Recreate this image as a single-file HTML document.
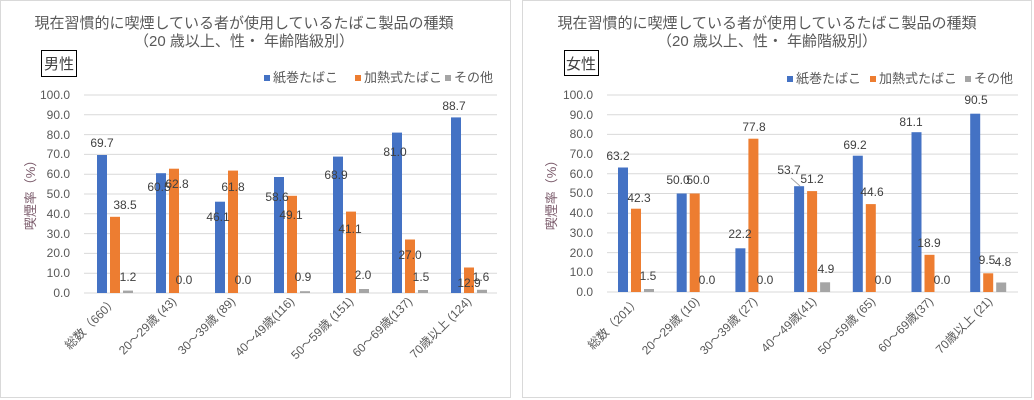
<!DOCTYPE html>
<html><head><meta charset="utf-8"><style>
html,body{margin:0;padding:0;background:#fff;}
svg{display:block;font-family:"Liberation Sans","Noto Sans CJK JP",sans-serif;}
.t{font-size:15px;fill:#595959;text-anchor:middle}
.yt{font-size:12px;fill:#595959;text-anchor:end}
.xl{font-size:12px;fill:#595959;text-anchor:end}
.dl{font-size:12px;fill:#404040;text-anchor:middle}
.lg{font-size:13px;fill:#595959}
.ya{font-size:13px;fill:#7a5a6a;text-anchor:middle}
.g{stroke:#d9d9d9;stroke-width:1}
.b{fill:#4472c4}.o{fill:#ed7d31}.r{fill:#a5a5a5}
</style></head><body>
<svg width="1034" height="400" viewBox="0 0 1034 400">
<rect x="0.5" y="0.5" width="510" height="397" fill="#fff" stroke="#d9d9d9"/>
<rect x="522.5" y="0.5" width="509" height="397" fill="#fff" stroke="#d9d9d9"/>

<!-- LEFT -->
<text class="t" x="244" y="28">現在習慣的に喫煙している者が使用しているたばこ製品の種類</text>
<text class="t" x="244" y="46">（20  歳以上、性・  年齢階級別）</text>
<rect x="41.5" y="50.5" width="35" height="26" fill="none" stroke="#000"/>
<text x="59" y="69" style="font-size:15px;fill:#404040;text-anchor:middle">男性</text>
<rect x="264" y="75" width="6" height="6" class="b"/><text class="lg" x="273" y="82">紙巻たばこ</text>
<rect x="355" y="75" width="6" height="6" class="o"/><text class="lg" x="364" y="82">加熱式たばこ</text>
<rect x="445" y="75" width="6" height="6" class="r"/><text class="lg" x="454" y="82">その他</text>
<g class="g">
<line x1="84" x2="497" y1="95" y2="95"/><line x1="84" x2="497" y1="114.8" y2="114.8"/><line x1="84" x2="497" y1="134.6" y2="134.6"/><line x1="84" x2="497" y1="154.4" y2="154.4"/><line x1="84" x2="497" y1="174.2" y2="174.2"/><line x1="84" x2="497" y1="194" y2="194"/><line x1="84" x2="497" y1="213.8" y2="213.8"/><line x1="84" x2="497" y1="233.6" y2="233.6"/><line x1="84" x2="497" y1="253.4" y2="253.4"/><line x1="84" x2="497" y1="273.2" y2="273.2"/><line x1="84" x2="497" y1="293" y2="293"/>
</g>
<g>
<text class="yt" x="70" y="99">100.0</text><text class="yt" x="70" y="119">90.0</text><text class="yt" x="70" y="139">80.0</text><text class="yt" x="70" y="158">70.0</text><text class="yt" x="70" y="178">60.0</text><text class="yt" x="70" y="198">50.0</text><text class="yt" x="70" y="218">40.0</text><text class="yt" x="70" y="238">30.0</text><text class="yt" x="70" y="257">20.0</text><text class="yt" x="70" y="277">10.0</text><text class="yt" x="70" y="297">0.0</text>
</g>
<text class="ya" transform="translate(35,192) rotate(-90)">喫煙率（%）</text>
<g>
<rect class="b" x="97" y="155" width="10" height="138"/><rect class="o" x="110" y="216.8" width="10" height="76.2"/><rect class="r" x="123" y="290.6" width="10" height="2.4"/>
<rect class="b" x="156" y="173.2" width="10" height="119.8"/><rect class="o" x="169" y="168.7" width="10" height="124.3"/>
<rect class="b" x="215" y="201.7" width="10" height="91.3"/><rect class="o" x="228" y="170.6" width="10" height="122.4"/>
<rect class="b" x="274" y="177" width="10" height="116"/><rect class="o" x="287" y="195.8" width="10" height="97.2"/><rect class="r" x="300" y="291.2" width="10" height="1.8"/>
<rect class="b" x="333" y="156.6" width="10" height="136.4"/><rect class="o" x="346" y="211.6" width="10" height="81.4"/><rect class="r" x="359" y="289" width="10" height="4"/>
<rect class="b" x="392" y="132.6" width="10" height="160.4"/><rect class="o" x="405" y="239.5" width="10" height="53.5"/><rect class="r" x="418" y="290" width="10" height="3"/>
<rect class="b" x="451" y="117.4" width="10" height="175.6"/><rect class="o" x="464" y="267.5" width="10" height="25.5"/><rect class="r" x="477" y="289.8" width="10" height="3.2"/>
</g>
<g>
<text class="dl" x="102" y="147">69.7</text><text class="dl" x="125" y="209">38.5</text><text class="dl" x="128" y="281">1.2</text>
<text class="dl" x="159" y="191">60.5</text><text class="dl" x="177" y="188">62.8</text><text class="dl" x="184" y="284">0.0</text>
<text class="dl" x="218" y="221">46.1</text><text class="dl" x="233" y="191">61.8</text><text class="dl" x="243" y="284">0.0</text>
<text class="dl" x="277" y="201">58.6</text><text class="dl" x="291" y="219">49.1</text><text class="dl" x="303" y="281">0.9</text>
<text class="dl" x="336" y="179">68.9</text><text class="dl" x="350" y="233">41.1</text><text class="dl" x="363" y="279">2.0</text>
<text class="dl" x="395" y="156">81.0</text><text class="dl" x="410" y="259">27.0</text><text class="dl" x="421" y="281">1.5</text>
<text class="dl" x="454" y="110">88.7</text><text class="dl" x="469" y="287">12.9</text><text class="dl" x="481" y="281">1.6</text>
</g>
<g>
<text class="xl" transform="translate(118,302) rotate(-45)">総数（660）</text>
<text class="xl" transform="translate(177,302) rotate(-45)">20～29歳 (43)</text>
<text class="xl" transform="translate(236,302) rotate(-45)">30～39歳 (89)</text>
<text class="xl" transform="translate(295,302) rotate(-45)">40～49歳(116)</text>
<text class="xl" transform="translate(354,302) rotate(-45)">50～59歳 (151)</text>
<text class="xl" transform="translate(413,302) rotate(-45)">60～69歳(137)</text>
<text class="xl" transform="translate(472,302) rotate(-45)">70歳以上 (124)</text>
</g>

<!-- RIGHT -->
<text class="t" x="767" y="28">現在習慣的に喫煙している者が使用しているたばこ製品の種類</text>
<text class="t" x="767" y="46">（20  歳以上、性・  年齢階級別）</text>
<rect x="564.5" y="50.5" width="34" height="25" fill="none" stroke="#000"/>
<text x="581" y="69" style="font-size:15px;fill:#404040;text-anchor:middle">女性</text>
<rect x="787" y="76" width="6" height="6" class="b"/><text class="lg" x="796" y="83">紙巻たばこ</text>
<rect x="870" y="76" width="6" height="6" class="o"/><text class="lg" x="879" y="83">加熱式たばこ</text>
<rect x="965" y="76" width="6" height="6" class="r"/><text class="lg" x="974" y="83">その他</text>
<g class="g">
<line x1="607" x2="1018" y1="95" y2="95"/><line x1="607" x2="1018" y1="114.7" y2="114.7"/><line x1="607" x2="1018" y1="134.4" y2="134.4"/><line x1="607" x2="1018" y1="154.1" y2="154.1"/><line x1="607" x2="1018" y1="173.8" y2="173.8"/><line x1="607" x2="1018" y1="193.5" y2="193.5"/><line x1="607" x2="1018" y1="213.2" y2="213.2"/><line x1="607" x2="1018" y1="232.9" y2="232.9"/><line x1="607" x2="1018" y1="252.6" y2="252.6"/><line x1="607" x2="1018" y1="272.3" y2="272.3"/><line x1="607" x2="1018" y1="292" y2="292"/>
</g>
<g>
<text class="yt" x="593" y="99">100.0</text><text class="yt" x="593" y="119">90.0</text><text class="yt" x="593" y="138">80.0</text><text class="yt" x="593" y="158">70.0</text><text class="yt" x="593" y="178">60.0</text><text class="yt" x="593" y="197">50.0</text><text class="yt" x="593" y="217">40.0</text><text class="yt" x="593" y="237">30.0</text><text class="yt" x="593" y="257">20.0</text><text class="yt" x="593" y="276">10.0</text><text class="yt" x="593" y="296">0.0</text>
</g>
<text class="ya" transform="translate(556,192) rotate(-90)">喫煙率（%）</text>
<g>
<rect class="b" x="618" y="167.5" width="10" height="124.5"/><rect class="o" x="631" y="208.7" width="10" height="83.3"/><rect class="r" x="644" y="289" width="10" height="3"/>
<rect class="b" x="676.7" y="193.5" width="10" height="98.5"/><rect class="o" x="689.7" y="193.5" width="10" height="98.5"/>
<rect class="b" x="735.4" y="248.3" width="10" height="43.7"/><rect class="o" x="748.4" y="138.7" width="10" height="153.3"/>
<rect class="b" x="794.1" y="186.2" width="10" height="105.8"/><rect class="o" x="807.1" y="191.1" width="10" height="100.9"/><rect class="r" x="820.1" y="282.3" width="10" height="9.7"/>
<rect class="b" x="852.8" y="155.7" width="10" height="136.3"/><rect class="o" x="865.8" y="204.1" width="10" height="87.9"/>
<rect class="b" x="911.5" y="132.2" width="10" height="159.8"/><rect class="o" x="924.5" y="254.8" width="10" height="37.2"/>
<rect class="b" x="970.2" y="113.7" width="10" height="178.3"/><rect class="o" x="983.2" y="273.3" width="10" height="18.7"/><rect class="r" x="996.2" y="282.5" width="10" height="9.5"/>
</g>
<line x1="791" y1="178" x2="800" y2="186" stroke="#a6a6a6" stroke-width="1"/>
<g>
<text class="dl" x="618" y="160">63.2</text><text class="dl" x="639" y="202">42.3</text><text class="dl" x="648" y="280">1.5</text>
<text class="dl" x="678" y="184">50.0</text><text class="dl" x="698" y="184">50.0</text><text class="dl" x="707" y="284">0.0</text>
<text class="dl" x="740" y="238">22.2</text><text class="dl" x="754" y="131">77.8</text><text class="dl" x="765" y="284">0.0</text>
<text class="dl" x="789" y="174">53.7</text><text class="dl" x="812" y="183">51.2</text><text class="dl" x="826" y="273">4.9</text>
<text class="dl" x="855" y="149">69.2</text><text class="dl" x="872" y="196">44.6</text><text class="dl" x="883" y="284">0.0</text>
<text class="dl" x="911" y="126">81.1</text><text class="dl" x="929" y="247">18.9</text><text class="dl" x="942" y="284">0.0</text>
<text class="dl" x="976" y="104">90.5</text><text class="dl" x="987" y="264">9.5</text><text class="dl" x="1003" y="266">4.8</text>
</g>
<g>
<text class="xl" transform="translate(641,302) rotate(-45)">総数（201）</text>
<text class="xl" transform="translate(700,302) rotate(-45)">20～29歳 (10)</text>
<text class="xl" transform="translate(758,302) rotate(-45)">30～39歳 (27)</text>
<text class="xl" transform="translate(817,302) rotate(-45)">40～49歳(41)</text>
<text class="xl" transform="translate(876,302) rotate(-45)">50～59歳 (65)</text>
<text class="xl" transform="translate(934,302) rotate(-45)">60～69歳(37)</text>
<text class="xl" transform="translate(993,302) rotate(-45)">70歳以上 (21)</text>
</g>
</svg>
</body></html>
